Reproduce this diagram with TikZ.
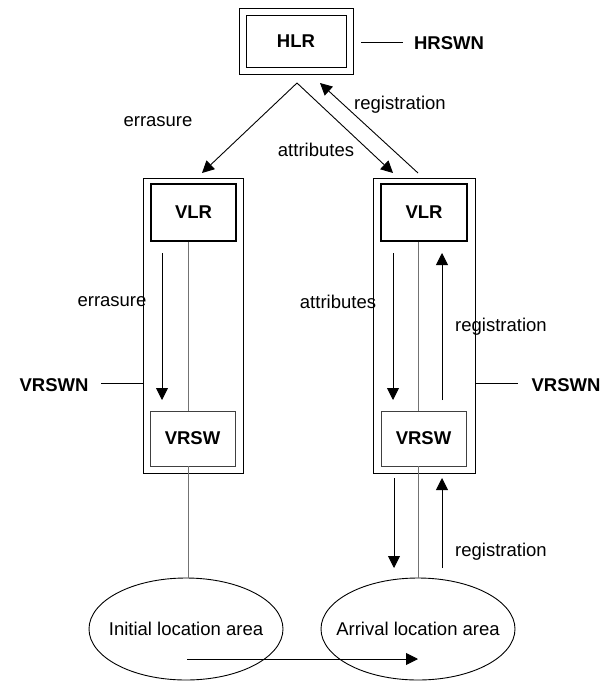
\documentclass[tikz,border=0pt]{standalone}
\usepackage{fontspec}
\setmainfont{Liberation Sans}
\usetikzlibrary{arrows.meta,shapes.geometric}
\begin{document}
\begin{tikzpicture}[x=1pt,y=-1pt,
  lbl/.style={font=\fontsize{18.5}{22}\selectfont, inner sep=0pt},
  blbl/.style={font=\fontsize{18.5}{22}\selectfont\bfseries, inner sep=0pt},
  frame/.style={draw, line width=0.9pt, inner sep=0pt},
  unit/.style={draw, line width=1.8pt, inner sep=0pt, font=\fontsize{18.5}{22}\selectfont\bfseries},
  sw/.style={draw=black!75, line width=0.9pt, inner sep=0pt, font=\fontsize{18.5}{22}\selectfont\bfseries},
  area/.style={ellipse, draw, line width=0.9pt, inner sep=0pt, minimum width=194pt, minimum height=102pt,
               label={[font=\fontsize{18.5}{22}\selectfont, inner sep=0pt]center:#1}},
  link/.style={draw=black!55, line width=1pt},
  tip/.style={line width=0.9pt, -{Triangle[length=12pt,width=12pt]}},
  tick/.style={line width=0.9pt}]
\useasboundingbox (0,0) rectangle (601,682);

% home register
\node[frame, minimum width=114pt, minimum height=66pt] (hlrO) at (296,41) {};
\node[frame, minimum width=100pt, minimum height=52pt, blbl] (hlr) at (296,41) {HLR};
\node[blbl] (hrswn) at (449,43) {HRSWN};
\coordinate (hrswnA) at (361,42);
\coordinate (hrswnB) at (403,42);
\draw[tick] (hrswnA) -- (hrswnB);

% visited networks
\node[frame, minimum width=100pt, minimum height=295pt] (colL) at (193,325.5) {};
\node[frame, minimum width=102pt, minimum height=295pt] (colR) at (424,325.5) {};
\node[unit, minimum width=85pt, minimum height=57pt] (vlrL) at (193.5,212.5) {VLR};
\node[unit, minimum width=86pt, minimum height=57pt] (vlrR) at (424,212.5) {VLR};
\node[sw, minimum width=85pt, minimum height=55pt] (vrswL) at (192.5,438.5) {VRSW};
\node[sw, minimum width=85pt, minimum height=55pt] (vrswR) at (423.5,438.5) {VRSW};

% location areas
\node[area={Initial location area}] (initA) at (186,629) {};
\node[area={Arrival location area}] (arrA) at (418,629) {};

% internal links
\coordinate (xL) at (188,0);
\coordinate (xR) at (418,0);
\draw[link] (vlrL.south -| xL) -- (vrswL.north -| xL);
\draw[link] (vrswL.south -| xL) -- (initA.north -| xL);
\draw[link] (vlrR.south -| xR) -- (vrswR.north -| xR);
\draw[link] (vrswR.south -| xR) -- (arrA.north);

% network name ticks
\node[blbl] (vrswnL) at (54,385) {VRSWN};
\node[blbl] (vrswnR) at (566,385) {VRSWN};
\coordinate (tkL) at (101,383);
\coordinate (tkR) at (518,383);
\draw[tick] (colL.west |- tkL) -- (tkL);
\draw[tick] (colR.east |- tkR) -- (tkR);

% messages from the HLR
\coordinate (apex) at (297,83);
\coordinate (toL) at (202,173);
\coordinate (toR) at (393,173);
\coordinate (regS) at (418,173);
\coordinate (regE) at (320,83);
\draw[tip] (apex) -- (toL);
\draw[tip] (apex) -- (toR);
\draw[tip] (regS) -- (regE);
\node[lbl] (e1) at (158,122) {errasure};
\node[lbl] (a1) at (316,150) {attributes};
\node[lbl] (r1) at (400,105) {registration};

% messages inside the visited networks
\coordinate (eS) at (162,253);  \coordinate (eE) at (162,400);
\coordinate (aS) at (393,253);  \coordinate (aE) at (393,400);
\coordinate (rS) at (442,400);  \coordinate (rE) at (442,253);
\draw[tip] (eS) -- (eE);
\draw[tip] (aS) -- (aE);
\draw[tip] (rS) -- (rE);
\node[lbl] (e2) at (112,302) {errasure};
\node[lbl] (a2) at (338,302) {attributes};
\node[lbl] (r2) at (501,327) {registration};

% messages towards the arrival area
\coordinate (dS) at (394,478);  \coordinate (dE) at (394,568);
\coordinate (uS) at (442,568);  \coordinate (uE) at (442,478);
\draw[tip] (dS) -- (dE);
\draw[tip] (uS) -- (uE);
\node[lbl] (r3) at (501,552) {registration};

% movement between areas
\coordinate (mS) at (187,659);
\coordinate (mE) at (418,659);
\draw[tip] (mS) -- (mE);
\end{tikzpicture}
\end{document}
